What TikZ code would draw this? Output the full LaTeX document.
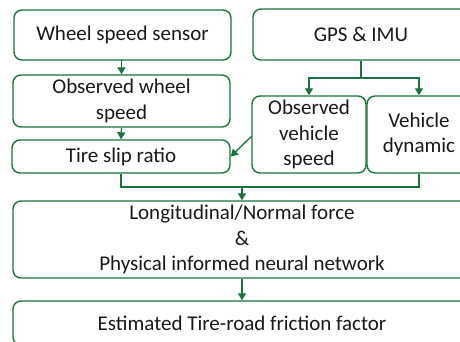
\documentclass[tikz,border=0pt]{standalone}
\usepackage{fontspec}
\setmainfont{Carlito}
\usetikzlibrary{arrows.meta}
\definecolor{lgreen}{RGB}{25,115,60}
\begin{document}
\begin{tikzpicture}[x=1pt,y=-1pt,
  box/.style={draw=lgreen,line width=1.4pt,rounded corners=8pt,align=center,
    inner sep=0pt,font=\fontsize{21}{25.5}\selectfont,text=black!90},
  conn/.style={draw=lgreen,line width=1.3pt},
  arr/.style={conn,-{Triangle[width=8pt,length=7pt]}}]
\useasboundingbox (0,0) rectangle (460,341);
\clip (0,0) rectangle (460,341);
\node[box,minimum width=217pt,minimum height=50pt] (wss) at (122.5,35) {Wheel speed sensor};
\node[box,minimum width=216pt,minimum height=51pt] (gps) at (361,34.5) {GPS \& IMU};
\node[box,minimum width=217pt,minimum height=52pt] (ows) at (121.5,101) {Observed wheel\\speed};
\node[box,minimum width=218pt,minimum height=33pt] (tsr) at (121,156.5) {Tire slip ratio};
\node[box,minimum width=114pt,minimum height=77pt] (ovs) at (309,134.5) {Observed\\vehicle\\speed};
\node[box,minimum width=104pt,minimum height=77pt] (vd) at (419,134.5) {Vehicle\\dynamic};
\node[box,minimum width=458pt,minimum height=77pt] (pinn) at (242,239.5) {Longitudinal/Normal force\\\&\\Physical informed neural network};
\node[box,minimum width=458pt,minimum height=44pt] (est) at (242,323) {Estimated Tire-road friction factor};
\coordinate (gj) at (361,78);
\coordinate (bj) at (242,187);
\draw[arr] (wss.south) -- (ows.south |- wss.south) -- (ows.north);
\draw[arr] (ows.south) -- (tsr.north);
\draw[conn] (gps.south) -- (gj);
\draw[arr] (gj) -| (ovs.north);
\draw[arr] (gj) -| (vd.north);
\draw[arr] (ovs.west) ++(0,2) -- (tsr.east);
\draw[conn] (tsr.south) |- (bj);
\draw[conn] (vd.south) |- (bj);
\draw[arr] (bj) -- (pinn.north);
\draw[arr] (pinn.south) -- (est.north);
\end{tikzpicture}
\end{document}
